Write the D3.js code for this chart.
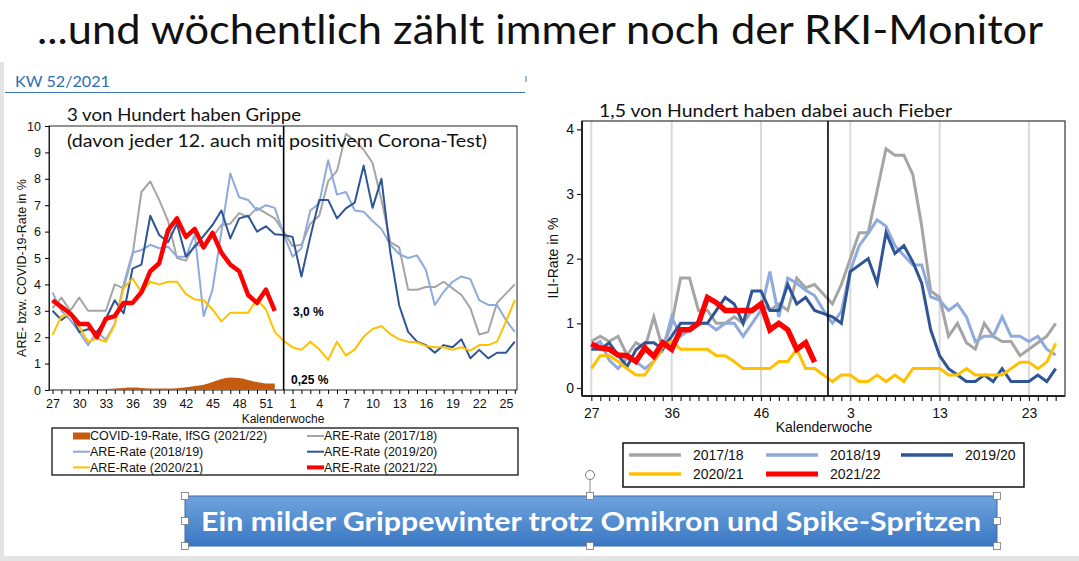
<!DOCTYPE html>
<html><head><meta charset="utf-8">
<script src="https://cdn.jsdelivr.net/npm/d3@7"></script>
<style>body{margin:0;background:#fff;}svg{display:block;}</style>
</head><body>
<svg id="c" width="1079" height="561"></svg>
<script>
// ---------------- DATA ----------------
const weeks = [27,28,29,30,31,32,33,34,35,36,37,38,39,40,41,42,43,44,45,46,47,48,49,50,51,52,53,1,2,3,4,5,6,7,8,9,10,11,12,13,14,15,16,17,18,19,20,21,22,23,24,25,26];
const leftTickLabels = [27,30,33,36,39,42,45,48,51,1,4,7,10,13,16,19,22,25];
const rightTickLabels = [27,36,46,3,13,23];
const leftYTicks = [0,1,2,3,4,5,6,7,8,9,10];
const rightYTicks = [0,1,2,3,4];

// ARE rate (left chart), weeks 27..53,1..26
const are2017 = [3.1,3.5,3.0,3.5,3.0,3.0,3.0,4.0,3.85,5.1,7.5,7.9,7.2,6.4,5.0,4.9,5.5,5.45,5.8,6.25,6.3,6.7,6.55,6.9,6.7,6.5,6.0,5.45,5.5,6.3,6.6,7.9,8.3,9.7,9.45,9.1,8.6,7.2,5.6,5.4,3.8,3.8,3.9,3.9,4.1,3.85,3.6,3.1,2.1,2.2,3.3,3.65,4.0];
const are2018 = [3.7,3.0,2.65,2.2,1.7,2.2,1.9,2.5,4.0,5.2,5.3,5.5,5.37,5.43,5.05,5.05,5.9,2.8,3.8,6.0,8.2,7.3,7.2,6.8,7.0,6.9,5.9,5.05,5.37,6.8,7.07,8.7,7.4,7.5,6.8,6.75,6.4,6.1,5.5,5.15,5.0,5.1,4.55,3.22,3.72,4.1,4.3,4.2,3.4,3.22,3.22,2.65,2.2];
const are2019 = [3.0,2.65,2.9,2.2,2.3,2.2,2.7,3.4,2.9,4.6,4.75,6.6,5.87,5.6,6.3,5.05,5.43,5.84,6.25,6.8,5.74,6.5,6.6,6.0,6.2,5.9,5.87,5.8,4.3,5.8,7.2,7.2,6.5,6.88,7.1,8.5,6.9,8.0,5.2,3.2,2.2,1.83,1.7,1.41,1.7,1.62,1.92,1.2,1.52,1.2,1.41,1.41,1.83];
const are2020 = [2.08,2.8,2.84,2.4,1.83,1.95,1.83,2.46,3.85,4.23,3.7,4.1,4.0,4.1,4.1,3.63,3.43,3.4,3.05,2.6,2.93,2.93,2.93,3.43,3.05,2.2,1.86,1.62,1.52,1.83,1.54,1.14,1.83,1.3,1.54,2.02,2.31,2.42,2.12,1.92,1.83,1.8,1.67,1.62,1.62,1.52,1.62,1.49,1.7,1.7,1.83,2.59,3.4];
const are2021 = [3.4,3.15,2.9,2.5,2.5,2.0,2.7,2.8,3.3,3.3,3.7,4.5,4.8,6.06,6.5,5.8,6.1,5.4,5.95,5.2,4.75,4.5,3.6,3.3,3.8,3.0];
const covid2021 = [0.01,0.01,0.01,0.01,0.01,0.02,0.04,0.06,0.08,0.09,0.08,0.06,0.06,0.06,0.07,0.1,0.15,0.2,0.3,0.42,0.47,0.45,0.38,0.3,0.25,0.25];

// ILI rate (right chart)
const ili2017 = [0.72,0.8,0.72,0.8,0.51,0.7,0.62,1.1,0.6,1.0,1.7,1.7,1.2,1.2,1.0,1.0,1.1,1.0,1.2,1.3,1.2,1.3,1.2,1.7,1.55,1.6,1.45,1.3,1.6,2.0,2.4,2.4,3.05,3.7,3.6,3.6,3.3,2.5,1.5,1.4,0.8,1.0,0.7,0.6,1.0,0.8,0.72,0.72,0.5,0.6,0.7,0.8,1.0];
const ili2018 = [0.64,0.72,0.43,0.3,0.46,0.41,0.3,0.41,0.6,1.1,0.8,0.9,1.0,1.0,0.9,1.0,1.0,0.8,1.0,1.2,1.8,1.1,1.7,1.62,1.51,1.43,1.2,1.0,1.18,1.82,2.2,2.39,2.6,2.5,2.2,2.05,1.9,1.9,1.41,1.36,1.2,1.3,1.1,0.72,0.8,0.8,1.1,0.8,0.8,0.72,0.8,0.6,0.51];
const ili2019 = [0.6,0.6,0.7,0.51,0.33,0.59,0.7,0.7,0.6,0.8,1.0,1.0,1.0,1.0,1.2,1.4,1.3,1.0,1.5,1.5,1.2,1.2,1.6,1.3,1.4,1.2,1.15,1.1,1.0,1.8,1.9,2.0,1.62,2.4,2.08,2.2,1.95,1.62,0.9,0.5,0.3,0.2,0.1,0.1,0.2,0.1,0.3,0.1,0.1,0.1,0.2,0.1,0.3];
const ili2020 = [0.3,0.5,0.5,0.41,0.3,0.2,0.2,0.41,0.64,0.72,0.6,0.6,0.6,0.6,0.5,0.5,0.41,0.3,0.3,0.3,0.3,0.41,0.41,0.6,0.3,0.3,0.2,0.1,0.2,0.2,0.1,0.1,0.2,0.1,0.2,0.1,0.3,0.3,0.3,0.3,0.2,0.2,0.3,0.2,0.2,0.2,0.2,0.3,0.4,0.4,0.3,0.4,0.69];
const ili2021 = [0.68,0.62,0.6,0.51,0.5,0.41,0.62,0.49,0.7,0.6,0.9,0.9,1.0,1.4,1.32,1.2,1.2,1.2,1.2,1.3,0.9,1.0,0.9,0.6,0.7,0.4];

const leftLegendLabels = ["COVID-19-Rate, IfSG (2021/22)","ARE-Rate (2017/18)","ARE-Rate (2018/19)","ARE-Rate (2019/20)","ARE-Rate (2020/21)","ARE-Rate (2021/22)"];
const rightLegendLabels = ["2017/18","2018/19","2019/20","2020/21","2021/22"];

// ---------------- STYLE ----------------
const C = {gray:'#A5A5A5', lblue:'#8FAADC', dblue:'#2F5597', orange:'#FFC000', red:'#FF0000', covid:'#C55A11'};
const AF = "'Liberation Sans', Arial, sans-serif";
const TF = "Lato, 'Open Sans', sans-serif";

const svg = d3.select('#c');
svg.append('rect').attr('width',1079).attr('height',561).attr('fill','#fff');
svg.append('rect').attr('x',0).attr('y',556).attr('width',1079).attr('height',5).attr('fill','#e4e4e4');
svg.append('rect').attr('x',0).attr('y',62).attr('width',4).attr('height',499).attr('fill','#e4e4e4');

function fitText(sel, w){ sel.attr('textLength', w).attr('lengthAdjust','spacingAndGlyphs'); return sel; }
fitText(svg.append('text').attr('x',37).attr('y',44).attr('font-family',TF).attr('font-size',40).attr('fill','#111')
  .text('...und wöchentlich zählt immer noch der RKI-Monitor'), 1006);

fitText(svg.append('text').attr('x',15).attr('y',87).attr('font-family',TF).attr('font-size',16).attr('fill','#2E6DB4')
  .text('KW 52/2021'), 95);
svg.append('line').attr('x1',5).attr('x2',525).attr('y1',92.5).attr('y2',92.5).attr('stroke','#3A75BE').attr('stroke-width',1.2);
svg.append('line').attr('x1',526).attr('x2',526).attr('y1',76).attr('y2',82).attr('stroke','#3A75BE').attr('stroke-width',1);

// ================= LEFT CHART =================
const L = {left:49, right:517, top:126, bottom:390};
const xL = d3.scalePoint().domain(weeks).range([52.5, 514.8]);
const yL = d3.scaleLinear().domain([0,10]).range([390,126]);

svg.append('rect').attr('x',L.left).attr('y',L.top).attr('width',L.right-L.left).attr('height',L.bottom-L.top)
  .attr('fill','none').attr('stroke','#222').attr('stroke-width',1);

const gyL = svg.append('g').attr('transform',`translate(${L.left},0)`)
  .call(d3.axisLeft(yL).tickValues(leftYTicks).tickSize(4).tickPadding(4));
gyL.select('.domain').attr('stroke','#222');
gyL.attr('font-family',AF).attr('font-size',12.5);
gyL.selectAll('text').attr('fill','#111');

const gxL = svg.append('g').attr('transform',`translate(0,${L.bottom})`)
  .call(d3.axisBottom(xL).tickValues(weeks).tickSize(4).tickPadding(5)
    .tickFormat(d => leftTickLabels.includes(d) ? d : ''));
gxL.select('.domain').remove();
gxL.attr('font-family',AF).attr('font-size',12.5);
gxL.selectAll('text').attr('fill','#111');
gxL.selectAll('text').filter(function(){ return this.textContent===''; }).remove();

const areaL = d3.area().x((d,i)=>xL(weeks[i])).y0(yL(0)).y1(d=>yL(d)).curve(d3.curveMonotoneX);
svg.append('path').datum(covid2021).attr('d',areaL).attr('fill',C.covid);

const lineL = d3.line().defined(d=>d!=null).x((d,i)=>xL(weeks[i])).y(d=>yL(d));
[[are2017,C.gray,2],[are2018,C.lblue,2],[are2019,C.dblue,2],[are2020,C.orange,2],[are2021,C.red,4.5]].forEach(([vals,col,w])=>{
  svg.append('path').datum(vals).attr('d',lineL).attr('fill','none').attr('stroke',col)
    .attr('stroke-width',w).attr('stroke-linejoin','round').attr('stroke-linecap','butt');
});

svg.append('line').attr('x1',xL(53)).attr('x2',xL(53)).attr('y1',L.top).attr('y2',L.bottom).attr('stroke','#000').attr('stroke-width',1.6);

svg.append('text').attr('x',293).attr('y',316).attr('font-family',AF).attr('font-size',12).attr('font-weight','bold').text('3,0 %');
svg.append('text').attr('x',291).attr('y',384).attr('font-family',AF).attr('font-size',12).attr('font-weight','bold').text('0,25 %');

fitText(svg.append('text').attr('x',67).attr('y',121).attr('font-family',TF).attr('font-size',18).attr('fill','#111').text('3 von Hundert haben Grippe'),234);
fitText(svg.append('text').attr('x',67).attr('y',147).attr('font-family',TF).attr('font-size',18).attr('fill','#111').text('(davon jeder 12. auch mit positivem Corona-Test)'),420);

svg.append('text').attr('x',283).attr('y',423).attr('text-anchor','middle').attr('font-family',AF).attr('font-size',12).attr('fill','#111').text('Kalenderwoche');
svg.append('text').attr('transform','translate(26,268) rotate(-90)').attr('text-anchor','middle').attr('font-family',AF).attr('font-size',12.5).attr('fill','#111').text('ARE- bzw. COVID-19-Rate in %');

// left legend
svg.append('rect').attr('x',52).attr('y',428).attr('width',466).attr('height',47).attr('fill','#fff').attr('stroke','#111').attr('stroke-width',1.3);
const legLcols = [C.covid,C.gray,C.lblue,C.dblue,C.orange,C.red];
leftLegendLabels.forEach((lab,i)=>{
  const col = i%2, row = Math.floor(i/2);
  const xs = col===0 ? 73 : 307, ty = 436 + row*15.7;
  if(i===0){
    svg.append('rect').attr('x',xs).attr('y',ty-3.5).attr('width',17).attr('height',7).attr('fill',C.covid);
  } else {
    svg.append('line').attr('x1',xs).attr('x2',xs+17).attr('y1',ty).attr('y2',ty).attr('stroke',legLcols[i]).attr('stroke-width',i===5?4:2);
  }
  svg.append('text').attr('x',xs+17).attr('y',ty).attr('dy','0.35em').attr('font-family',AF).attr('font-size',12.5).attr('fill','#111').text(lab);
});

// ================= RIGHT CHART =================
const R = {left:582, right:1065, top:121, bottom:396};
const xR = d3.scalePoint().domain(weeks).range([591.3, 1055.7]);
const yR = d3.scaleLinear().domain([0,4]).range([388,129.3]);

svg.append('g').selectAll('line').data(rightTickLabels).join('line')
  .attr('x1',d=>xR(d)).attr('x2',d=>xR(d)).attr('y1',R.top).attr('y2',R.bottom)
  .attr('stroke','#D9D9D9').attr('stroke-width',2);

svg.append('rect').attr('x',R.left).attr('y',R.top).attr('width',R.right-R.left).attr('height',R.bottom-R.top)
  .attr('fill','none').attr('stroke','#333').attr('stroke-width',1.2);

const gyR = svg.append('g').attr('transform',`translate(${R.left},0)`)
  .call(d3.axisLeft(yR).tickValues(rightYTicks).tickSize(5).tickPadding(3).tickFormat(d3.format('d')));
gyR.select('.domain').remove();
gyR.append('line').attr('x1',0).attr('x2',0).attr('y1',R.top).attr('y2',R.bottom).attr('stroke','#222').attr('stroke-width',2);
gyR.attr('font-family',AF).attr('font-size',14);
gyR.selectAll('.tick line').attr('stroke','#222').attr('stroke-width',1.2);
gyR.selectAll('text').attr('fill','#111');

const gxR = svg.append('g').attr('transform',`translate(0,${R.bottom})`)
  .call(d3.axisBottom(xR).tickValues(weeks).tickSize(5).tickPadding(7)
    .tickFormat(d => rightTickLabels.includes(d) ? d : ''));
gxR.select('.domain').remove();
gxR.append('line').attr('x1',R.left).attr('x2',R.right).attr('y1',0).attr('y2',0).attr('stroke','#222').attr('stroke-width',2);
gxR.attr('font-family',AF).attr('font-size',14);
gxR.selectAll('.tick line').attr('stroke','#222').attr('stroke-width',1.2);
gxR.selectAll('text').attr('fill','#111');
gxR.selectAll('text').filter(function(){ return this.textContent===''; }).remove();

const lineR = d3.line().defined(d=>d!=null).x((d,i)=>xR(weeks[i])).y(d=>yR(d));
[[ili2017,C.gray,3],[ili2018,C.lblue,3],[ili2019,C.dblue,3],[ili2020,C.orange,3],[ili2021,C.red,5.5]].forEach(([vals,col,w])=>{
  svg.append('path').datum(vals).attr('d',lineR).attr('fill','none').attr('stroke',col)
    .attr('stroke-width',w).attr('stroke-linejoin','miter').attr('stroke-linecap','butt');
});

const xm = (xR(53)+xR(1))/2;
svg.append('line').attr('x1',xm).attr('x2',xm).attr('y1',R.top).attr('y2',R.bottom).attr('stroke','#000').attr('stroke-width',1.6);

fitText(svg.append('text').attr('x',599).attr('y',117).attr('font-family',TF).attr('font-size',18).attr('fill','#111').text('1,5 von Hundert haben dabei auch Fieber'),353);
svg.append('text').attr('x',824).attr('y',432).attr('text-anchor','middle').attr('font-family',AF).attr('font-size',14).attr('fill','#111').text('Kalenderwoche');
svg.append('text').attr('transform','translate(558,258) rotate(-90)').attr('text-anchor','middle').attr('font-family',AF).attr('font-size',14).attr('fill','#111').text('ILI-Rate in %');

// right legend
svg.append('rect').attr('x',623).attr('y',443).attr('width',401).attr('height',44).attr('fill','#fff').attr('stroke','#111').attr('stroke-width',1.5);
const legRcols = [C.gray,C.lblue,C.dblue,C.orange,C.red];
rightLegendLabels.forEach((lab,i)=>{
  const col = i%3, row = Math.floor(i/3);
  const xs = [629,766,901][col], ty = 455 + row*19;
  svg.append('line').attr('x1',xs).attr('x2',xs+52).attr('y1',ty).attr('y2',ty).attr('stroke',legRcols[i]).attr('stroke-width',i===4?5:3.5);
  svg.append('text').attr('x',xs+64).attr('y',ty).attr('dy','0.35em').attr('font-family',AF).attr('font-size',14).attr('fill','#111').text(lab);
});

// ================= BANNER =================
const defs = svg.append('defs');
const gr = defs.append('linearGradient').attr('id','bg').attr('x1',0).attr('x2',0).attr('y1',0).attr('y2',1);
gr.append('stop').attr('offset','0%').attr('stop-color','#6FA3DC');
gr.append('stop').attr('offset','100%').attr('stop-color','#3A78C4');
svg.append('rect').attr('x',185).attr('y',496).attr('width',812).attr('height',50).attr('fill','url(#bg)').attr('stroke','#3A6FAE').attr('stroke-width',1);
fitText(svg.append('text').attr('x',591).attr('y',531).attr('text-anchor','middle').attr('font-family',TF).attr('font-weight','bold')
  .attr('font-size',27).attr('fill','#fff').text('Ein milder Grippewinter trotz Omikron und Spike-Spritzen'),780);
svg.append('line').attr('x1',590).attr('x2',590).attr('y1',480).attr('y2',496).attr('stroke','#888');
svg.append('circle').attr('cx',590).attr('cy',475).attr('r',4.5).attr('fill','#fff').attr('stroke','#777');
[[185,496],[590,496],[997,496],[185,521],[997,521],[185,546],[590,546],[997,546]].forEach(([hx,hy])=>{
  svg.append('rect').attr('x',hx-3.5).attr('y',hy-3.5).attr('width',7).attr('height',7).attr('fill','#fff').attr('stroke','#777').attr('stroke-width',0.8);
});
</script>
</body></html>
